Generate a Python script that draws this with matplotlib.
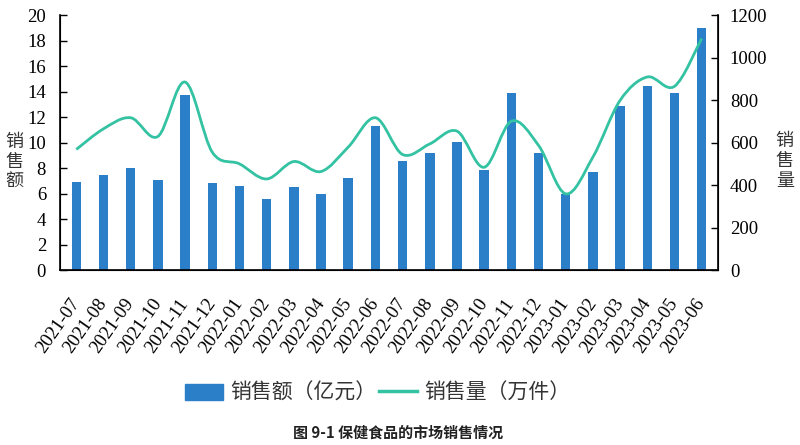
import numpy as np
import matplotlib
matplotlib.use('Agg')
import matplotlib.pyplot as plt
import matplotlib.transforms as mtransforms
from matplotlib.path import Path
from matplotlib.patches import PathPatch, Patch
from matplotlib.lines import Line2D

# datos
meses = ['2021-07', '2021-08', '2021-09', '2021-10', '2021-11', '2021-12',
         '2022-01', '2022-02', '2022-03', '2022-04', '2022-05', '2022-06',
         '2022-07', '2022-08', '2022-09', '2022-10', '2022-11', '2022-12',
         '2023-01', '2023-02', '2023-03', '2023-04', '2023-05', '2023-06']
ventas = [6.9, 7.47, 8.02, 7.05, 13.7, 6.8, 6.63, 5.58, 6.53, 5.98, 7.26, 11.27,
          8.55, 9.17, 10.01, 7.86, 13.92, 9.2, 6.0, 7.7, 12.84, 14.44, 13.92, 18.98]
volumen = [568, 665, 717, 629, 885, 555, 500, 429, 511, 464, 579, 717,
           544, 594, 654, 484, 701, 587, 359, 532, 799, 909, 865, 1090]

azul = '#2a7fc8'
verde = '#33c2a2'
cjk = ['Noto Sans CJK SC', 'DejaVu Sans']

plt.rcParams['font.family'] = 'serif'
plt.rcParams['font.serif'] = ['Liberation Serif', 'DejaVu Serif']

fig = plt.figure(figsize=(8, 4.45), dpi=100)
ax = fig.add_axes([0.075, 0.393, 0.8225, 0.573])
ax2 = ax.twinx()

x = np.arange(len(meses))
ax.bar(x, ventas, width=0.35, color=azul)

# curva suavizada (bezier tipo catmull-rom, como en Excel)
pts = np.column_stack([x, volumen]).astype(float)
verts = [tuple(pts[0])]
codes = [Path.MOVETO]
t = 1.0 / 6
for i in range(len(pts) - 1):
    p0 = pts[max(i - 1, 0)]
    p1 = pts[i]
    p2 = pts[i + 1]
    p3 = pts[min(i + 2, len(pts) - 1)]
    c1 = p1 + (p2 - p0) * t
    c2 = p2 - (p3 - p1) * t
    verts += [tuple(c1), tuple(c2), tuple(p2)]
    codes += [Path.CURVE4] * 3
ax2.add_patch(PathPatch(Path(verts, codes), facecolor='none', edgecolor=verde, lw=2.0))

ax.set_xlim(-0.6, len(meses) - 0.4)
ax.set_ylim(0, 20)
ax.set_yticks(range(0, 21, 2))
ax2.set_ylim(0, 1200)
ax2.set_yticks(range(0, 1201, 200))

ax.set_xticks(x)
ax.set_xticklabels(meses, rotation=55, ha='right', va='center', rotation_mode='anchor',
                   fontsize=13.5)
desplaza = mtransforms.ScaledTranslation(8 / 72, 0, fig.dpi_scale_trans)
for lab in ax.get_xticklabels():
    lab.set_transform(lab.get_transform() + desplaza)

for a in (ax, ax2):
    a.spines['top'].set_visible(False)
    a.tick_params(axis='y', direction='in', length=5, width=1, labelsize=13.5)
ax.tick_params(axis='y', pad=10)
ax2.tick_params(axis='y', pad=8.5)
ax.tick_params(axis='x', length=0, pad=22)
ax2.spines['right'].set_linewidth(1.2)
ax.spines['left'].set_linewidth(1.2)
ax.spines['bottom'].set_linewidth(1.2)

fig.text(0.018, 0.636, '销\n售\n额', family=cjk, fontsize=13, ha='center', va='center',
         color='#333333', linespacing=1.15)
fig.text(0.981, 0.638, '销\n售\n量', family=cjk, fontsize=13, ha='center', va='center',
         color='#333333', linespacing=1.15)

handles = [Patch(color=azul), Line2D([0], [0], color=verde, lw=2.5)]
fig.legend(handles, ['销售额（亿元）', '销售量（万件）'], loc='center', bbox_to_anchor=(0.472, 0.117),
           ncol=2, frameon=False, prop={'family': cjk, 'size': 15}, handlelength=1.85,
           handleheight=0.8, columnspacing=0.1, handletextpad=0.35, labelcolor='#333333')

fig.text(0.497, 0.027, '图 9-1 保健食品的市场销售情况', family=cjk, fontsize=10.8,
         fontweight='bold', ha='center', va='center', color='#222222')

fig.savefig('out.png', dpi=100)
